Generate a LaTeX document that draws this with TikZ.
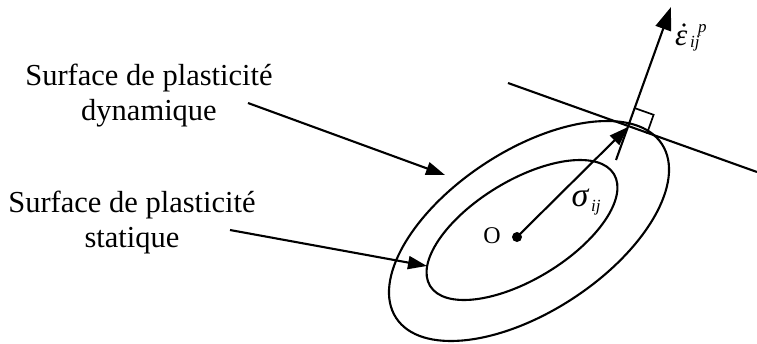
\documentclass[tikz,border=0pt]{standalone}
\usepackage{fontspec}
\setmainfont{Liberation Serif}
\usetikzlibrary{arrows.meta}
\newcommand\myfs[1]{\fontsize{#1}{#1}\selectfont}
\tikzset{
  curve/.style={line width=2.1pt},
  thin line/.style={line width=2.1pt},
  lab/.style={inner sep=0pt, anchor=base, font=\myfs{30.5}},
  labarrow/.style={line width=2.1pt, -{Triangle[length=19pt,width=13pt]}},
  sigarrow/.style={line width=2.1pt, -{Triangle[length=19pt,width=13pt]}},
  normarrow/.style={line width=2.1pt, -{Triangle[length=23pt,width=16pt]}},
  subtext/.style={inner sep=0pt, anchor=base west, font=\myfs{17}\itshape},
}
\begin{document}
\begin{tikzpicture}[x=1pt,y=-1pt]
\useasboundingbox (0,0) rectangle (757,343);
% labels
\node[lab] (l1a) at (149,85) {Surface de plasticité};
\node[lab] (l1b) at (149,120) {dynamique};
\node[lab] (l2a) at (132,212) {Surface de plasticité};
\node[lab] (l2b) at (132,247) {statique};
% ellipses
\draw[curve, rotate around={33.2:(529,231)}] (529,231) ellipse [x radius=158.8pt, y radius=80.5pt];
\draw[curve, rotate around={31.3:(522,230)}] (522,230) ellipse [x radius=107.6pt, y radius=49.3pt];
% label arrows
\coordinate (a1s) at (248,103);
\coordinate (a1e) at (445,175);
\coordinate (a2s) at (230,230);
\coordinate (a2e) at (427,266);
\draw[labarrow] (a1s) -- (a1e);
\draw[labarrow] (a2s) -- (a2e);
% centre
\coordinate (O) at (517,237);
\fill (O) circle (5pt);
\node[inner sep=0pt, font=\myfs{24}] (olab) at (492,236) {O};
% tangent point, tangent line, normal
\coordinate (P) at (628,127);
\coordinate (T1) at (508,83);
\coordinate (T2) at (757,172);
\draw[thin line] (T1) -- (T2);
\draw[sigarrow] (O) -- (P);
\coordinate (N0) at (616,160);
\coordinate (N1) at (671,7);
\draw[normarrow] (N0) -- (N1);
% right angle marker
\coordinate (Q) at (634.7,108.1);
\coordinate (R) at (653.6,114.8);
\coordinate (S) at (646.9,133.7);
\draw[line width=1.7pt] (Q) -- (R) -- (S);
% sigma_ij
\node[inner sep=0pt, font=\myfs{34}\itshape] (sig) at (580,198) {σ};
\node[subtext] (sigij) at (591,211) {ij};
% epsilon dot ^p _ij
\node[inner sep=0pt, anchor=base west, font=\myfs{31}\itshape] (eps) at (675,45) {ε};
\coordinate (epsdot) at (684,25);
\fill (epsdot) circle (1.9pt);
\node[subtext] (epsp) at (698,32) {p};
\node[subtext] (epsij) at (690,47) {ij};
\end{tikzpicture}
\end{document}
